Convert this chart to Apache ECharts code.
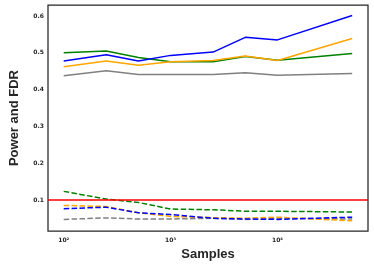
<!DOCTYPE html>
<html><head><meta charset="utf-8">
<script src="https://cdn.jsdelivr.net/npm/echarts@6/dist/echarts.min.js"></script>
<style>html,body{margin:0;padding:0;background:#fff}#c{width:374px;height:266px}</style>
</head><body><div id="c"></div>
<script>
const samples = [100, 250, 500, 1000, 2500, 5000, 10000, 50000];
const powerBlue   = [0.478, 0.495, 0.478, 0.493, 0.502, 0.542, 0.535, 0.601];
const powerGreen  = [0.500, 0.505, 0.487, 0.476, 0.476, 0.490, 0.480, 0.498];
const powerOrange = [0.462, 0.478, 0.466, 0.476, 0.479, 0.491, 0.479, 0.539];
const powerGray   = [0.438, 0.451, 0.441, 0.441, 0.441, 0.446, 0.439, 0.444];
const fdrGreen    = [0.124, 0.103, 0.094, 0.076, 0.074, 0.070, 0.070, 0.068];
const fdrOrange   = [0.086, 0.083, 0.066, 0.056, 0.053, 0.051, 0.054, 0.044];
const fdrBlue     = [0.077, 0.081, 0.066, 0.061, 0.051, 0.049, 0.048, 0.054];
const fdrGray     = [0.048, 0.052, 0.049, 0.049, 0.051, 0.048, 0.051, 0.049];
const threshold = 0.1;
const xTicks = [100, 1000, 10000];
const xTickLabels = ['10²', '10³', '10⁴'];
const yTicks = [0.1, 0.2, 0.3, 0.4, 0.5, 0.6];

const pairs = v => samples.map((s, i) => [s, v[i]]);
function solid(v, color) {
  return {type: 'line', data: pairs(v), symbol: 'none', smooth: false,
    lineStyle: {color, width: 1.5}, itemStyle: {color}, z: 2};
}
function dashed(v, color) {
  return {type: 'line', data: pairs(v), symbol: 'none',
    lineStyle: {color, width: 1.5, type: [5.5, 2.4]}, itemStyle: {color}, z: 2};
}
const chart = echarts.init(document.getElementById('c'));
chart.setOption({
  animation: false,
  backgroundColor: '#fff',
  grid: {left: 36, right: 6, top: 5, bottom: 34, show: true, borderColor: '#262626', borderWidth: 1.25, backgroundColor: '#fff'},
  xAxis: {
    type: 'log', logBase: 10, min: 71.3, max: 70300,
    name: 'Samples', nameLocation: 'middle', nameGap: 16,
    nameTextStyle: {fontFamily: 'Liberation Sans', fontSize: 13, fontWeight: 'bold', color: '#262626'},
    axisLine: {show: false}, axisTick: {show: false}, splitLine: {show: false}, minorTick: {show: false},
    axisLabel: {customValues: xTicks, fontFamily: 'DejaVu Sans', fontSize: 6, fontWeight: 'bold', color: '#262626', margin: 6,
      formatter: v => xTickLabels[xTicks.findIndex(t => Math.abs(t - v) / t < 1e-6)] || ''}
  },
  yAxis: {
    type: 'value', min: 0.0162, max: 0.6297,
    name: 'Power and FDR', nameLocation: 'middle', nameGap: 27, nameRotate: 90,
    nameTextStyle: {fontFamily: 'Liberation Sans', fontSize: 13, fontWeight: 'bold', color: '#262626'},
    axisLine: {show: false}, axisTick: {show: false}, splitLine: {show: false},
    axisLabel: {customValues: yTicks, fontFamily: 'DejaVu Sans', fontSize: 6, fontWeight: 'bold', color: '#262626', margin: 4,
      formatter: v => v.toFixed(1)}
  },
  series: [
    solid(powerGray, '#808080'),
    solid(powerGreen, '#008000'),
    solid(powerOrange, '#ffa500'),
    solid(powerBlue, '#0000ff'),
    dashed(fdrGray, '#808080'),
    dashed(fdrGreen, '#008000'),
    dashed(fdrOrange, '#ffa500'),
    Object.assign(dashed(fdrBlue, '#0000ff'), {
      markLine: {silent: true, symbol: 'none', label: {show: false}, z: 5,
        lineStyle: {color: '#ff0000', width: 1.5, type: 'solid'},
        data: [{yAxis: threshold}]}
    })
  ]
});
</script></body></html>
